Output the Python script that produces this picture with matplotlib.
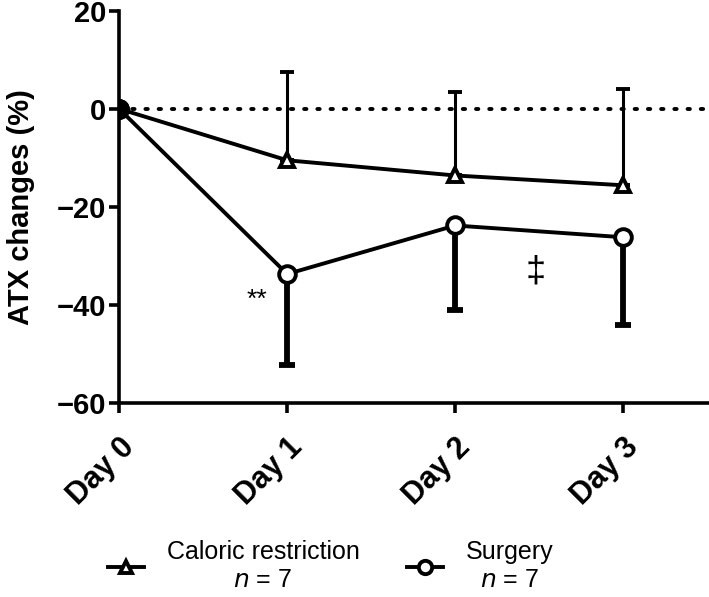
import numpy as np
import matplotlib
matplotlib.use('Agg')
import matplotlib.pyplot as plt

plt.rcParams['font.family'] = ['Liberation Sans', 'DejaVu Sans']

days = ['Day 0', 'Day 1', 'Day 2', 'Day 3']
cr_mean = [0, -10.5, -13.6, -15.6]
cr_sd_up = [0, 18.0, 17.1, 19.7]
surg_mean = [0, -33.7, -23.8, -26.2]
surg_sd_down = [0, 18.5, 17.2, 17.8]

x = np.arange(len(days))

fig = plt.figure(figsize=(7.09, 5.97), dpi=100)
ax = fig.add_axes([0.168, 0.325, 0.832, 0.657])

# reference line at 0
ax.axhline(0, color='black', linestyle=(0, (0.6, 2.8)), linewidth=2.8,
           dash_capstyle='round', zorder=1)

# error bars (CR up, surgery down)
ax.errorbar(x[1:], cr_mean[1:], yerr=[np.zeros(3), cr_sd_up[1:]], fmt='none',
            ecolor='black', elinewidth=2.2, capsize=5, capthick=2.8, zorder=2)
ax.errorbar(x[1:], surg_mean[1:], yerr=[surg_sd_down[1:], np.zeros(3)], fmt='none',
            ecolor='black', elinewidth=4.2, capsize=5.5, capthick=4.2, zorder=2)

l_cr, = ax.plot(x, cr_mean, color='black', linewidth=2.8, marker='^', markersize=10,
                markerfacecolor='white', markeredgewidth=2.8, zorder=3)
l_s, = ax.plot(x, surg_mean, color='black', linewidth=2.8, marker='o', markersize=12,
               markerfacecolor='white', markeredgewidth=2.8, zorder=3)
ax.plot(x[0], surg_mean[0], marker='o', markersize=14, color='black', zorder=4)

# significance marks
ax.text(0.82, -39.0, '**', fontsize=19, ha='center', va='center')
ax.text(2.476, -33.3, '‡', fontsize=26, ha='center', va='center')

ax.set_xlim(0, 3.51)
ax.set_ylim(-60, 20)
ax.set_yticks([-60, -40, -20, 0, 20])
ax.set_yticklabels(['\u221260', '\u221240', '\u221220', '0', '20'])
ax.set_xticks(x)
ax.set_xticklabels(days, rotation=45, ha='right', rotation_mode='anchor')
for lab in ax.get_yticklabels():
    lab.set_fontweight('bold')
    lab.set_fontsize(21)
for lab in ax.get_xticklabels():
    lab.set_fontweight('bold')
    lab.set_fontsize(22)
ax.tick_params(width=2.6, length=7, direction='out', pad=2)
ax.tick_params(axis='x', pad=14)
ax.set_ylabel('ATX changes (%)', fontsize=21, fontweight='bold', labelpad=16)

for s in ['top', 'right']:
    ax.spines[s].set_visible(False)
for s in ['left', 'bottom']:
    ax.spines[s].set_linewidth(2.6)

leg = fig.legend([l_cr, l_s], ['Caloric restriction\n$n$ = 7', 'Surgery\n$n$ = 7'],
                 loc='lower left', bbox_to_anchor=(0.152, 0.008), ncol=2, frameon=False,
                 fontsize=18, handlelength=1.45, columnspacing=1.9, handletextpad=0.9,
                 markerscale=0.8, borderpad=0, borderaxespad=0, labelspacing=0)
for t in leg.get_texts():
    t.set_multialignment('center')

fig.savefig('out.png', dpi=100)
